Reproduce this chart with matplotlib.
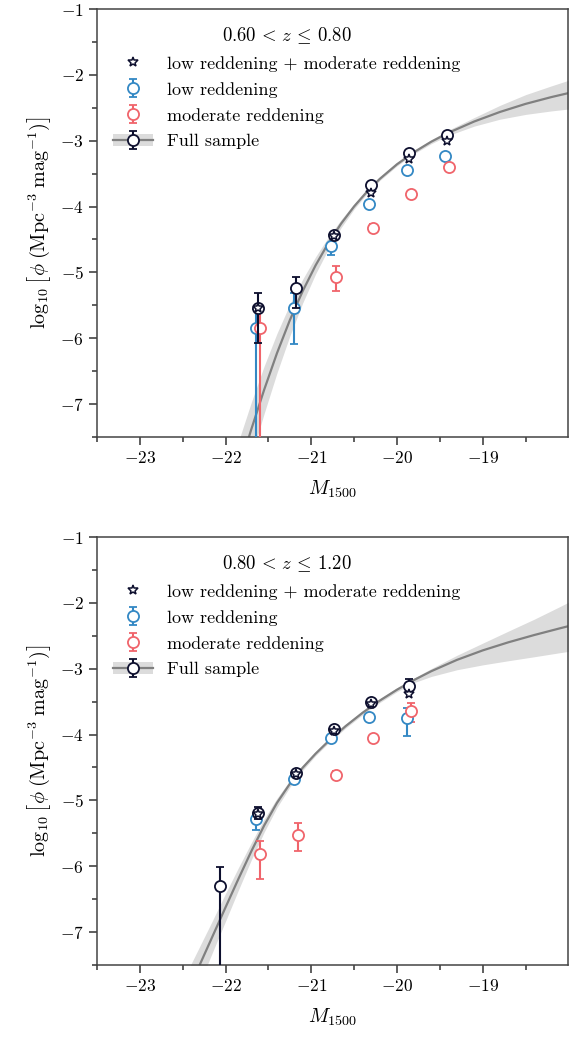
import matplotlib
matplotlib.use("Agg")
import matplotlib.pyplot as plt
import numpy as np
from matplotlib.ticker import MultipleLocator
from matplotlib.patches import Patch
from matplotlib.lines import Line2D

plt.rcParams['font.family'] = 'serif'
plt.rcParams['font.serif'] = ['cmr10']
plt.rcParams['mathtext.fontset'] = 'cm'
plt.rcParams['axes.formatter.use_mathtext'] = True
plt.rcParams['axes.unicode_minus'] = True

# colours
c_low = '#3388c4'
c_mod = '#f0646b'
c_all = '#0d0f2e'
c_fit = '#808080'
c_band = '#dcdcdc'

# ---- 0.60 < z <= 0.80 ----
m_top = [-21.62, -21.18, -20.74, -20.30, -19.86, -19.42]
all_top = [-5.545, -5.23, -4.425, -3.68, -3.19, -2.915]
all_top_lo = [0.535, 0.315, 0.04, 0.04, 0.04, 0.05]
all_top_hi = [0.235, 0.16, 0.04, 0.04, 0.04, 0.05]
comb_top = [-5.545, np.nan, -4.45, -3.80, -3.28, -3.00]
low_top = [-5.85, -5.545, -4.60, -3.96, -3.44, -3.23]
low_top_lo = [10.0, 0.545, 0.13, 0.04, 0.04, 0.04]
low_top_hi = [0.30, 0.235, 0.05, 0.04, 0.04, 0.04]
mod_top = [-5.85, np.nan, -5.07, -4.32, -3.81, -3.40]
mod_top_lo = [10.0, 0.0, 0.21, 0.05, 0.04, 0.04]
mod_top_hi = [0.30, 0.0, 0.16, 0.05, 0.04, 0.04]

fit_m_top = [-21.85, -21.70, -21.55, -21.40, -21.25, -21.10, -20.95, -20.80, -20.65, -20.50,
             -20.35, -20.20, -20.00, -19.80, -19.60, -19.40, -19.10, -18.80, -18.50, -18.20,
             -17.95]
fit_top = [-8.020, -7.384, -6.783, -6.226, -5.725, -5.283, -4.894, -4.553, -4.256, -3.998,
           -3.774, -3.579, -3.358, -3.173, -3.015, -2.880, -2.709, -2.564, -2.441, -2.338,
           -2.262]
band_top_lo = [0.45, 0.41, 0.36, 0.30, 0.24, 0.18, 0.13, 0.09, 0.06, 0.04,
               0.03, 0.025, 0.025, 0.025, 0.03, 0.04, 0.07, 0.11, 0.16, 0.21,
               0.25]
band_top_hi = [0.45, 0.41, 0.36, 0.30, 0.24, 0.18, 0.13, 0.09, 0.06, 0.04,
               0.03, 0.025, 0.025, 0.025, 0.03, 0.04, 0.06, 0.10, 0.14, 0.17,
               0.20]

# ---- 0.80 < z <= 1.20 ----
m_bot = [-22.06, -21.62, -21.18, -20.74, -20.30, -19.86]
all_bot = [-6.30, -5.195, -4.58, -3.91, -3.50, -3.26]
all_bot_lo = [10.0, 0.09, 0.04, 0.04, 0.04, 0.10]
all_bot_hi = [0.29, 0.10, 0.04, 0.04, 0.04, 0.10]
comb_bot = [np.nan, -5.20, -4.60, -3.94, -3.54, -3.39]
low_bot = [np.nan, -5.29, -4.68, -4.06, -3.73, -3.75]
low_bot_lo = [0.0, 0.16, 0.04, 0.04, 0.04, 0.27]
low_bot_hi = [0.0, 0.09, 0.04, 0.04, 0.04, 0.15]
mod_bot = [np.nan, -5.81, -5.52, -4.62, -4.05, -3.65]
mod_bot_lo = [0.0, 0.38, 0.25, 0.06, 0.04, 0.16]
mod_bot_hi = [0.0, 0.19, 0.17, 0.06, 0.04, 0.13]

fit_m_bot = [-22.45, -22.30, -22.15, -22.00, -21.85, -21.70, -21.55, -21.40, -21.25, -21.10,
             -20.95, -20.80, -20.60, -20.40, -20.20, -20.00, -19.80, -19.60, -19.30, -19.00,
             -18.70, -18.40, -18.10, -17.95]
fit_bot = [-7.928, -7.493, -7.058, -6.623, -6.192, -5.774, -5.382, -5.037, -4.748, -4.503,
           -4.291, -4.101, -3.873, -3.668, -3.484, -3.319, -3.171, -3.038, -2.866, -2.722,
           -2.599, -2.489, -2.387, -2.338]
band_bot_lo = [0.32, 0.28, 0.24, 0.21, 0.17, 0.13, 0.10, 0.07, 0.05, 0.04,
               0.03, 0.03, 0.03, 0.03, 0.03, 0.03, 0.04, 0.08, 0.15, 0.22,
               0.28, 0.33, 0.37, 0.39]
band_bot_hi = [0.32, 0.28, 0.24, 0.21, 0.17, 0.13, 0.10, 0.07, 0.05, 0.04,
               0.03, 0.03, 0.03, 0.03, 0.03, 0.03, 0.03, 0.04, 0.07, 0.11,
               0.17, 0.24, 0.33, 0.38]

dm = 0.025  # horizontal offset between the two reddening subsamples


def panel(ax, title, m, allv, all_lo, all_hi, comb, low, low_lo, low_hi, mod, mod_lo, mod_hi,
          fm, fv, blo, bhi):
    m = np.array(m)
    fm = np.array(fm)
    fv = np.array(fv)
    h_band = ax.fill_between(fm, fv - np.array(blo), fv + np.array(bhi),
                             color=c_band, lw=0, zorder=1)
    h_line, = ax.plot(fm, fv, color=c_fit, lw=1.6, zorder=2)

    kw = dict(fmt='o', ms=8, mfc='white', mew=1.3, capsize=2.6, elinewidth=1.5, capthick=1.5)
    h_low = ax.errorbar(m - dm, low, yerr=[low_lo, low_hi], color=c_low, mec=c_low,
                        zorder=3, **kw)
    h_mod = ax.errorbar(m + dm, mod, yerr=[mod_lo, mod_hi], color=c_mod, mec=c_mod,
                        zorder=3, **kw)
    h_all = ax.errorbar(m, allv, yerr=[all_lo, all_hi], color=c_all, mec=c_all,
                        zorder=4, **kw)
    h_comb, = ax.plot(m, comb, ls='none', marker='*', ms=7, mfc='white', mec=c_all,
                      mew=1.1, zorder=5)

    ax.set_xlim(-23.5, -18.005)
    ax.set_ylim(-7.5, -1)
    ax.xaxis.set_major_locator(MultipleLocator(1))
    ax.xaxis.set_minor_locator(MultipleLocator(0.5))
    ax.yaxis.set_major_locator(MultipleLocator(1))
    ax.yaxis.set_minor_locator(MultipleLocator(0.5))
    ax.tick_params(which='both', direction='out', top=False, right=False, width=1.1,
                   color='#333333', labelsize=12.5)
    ax.tick_params(which='major', length=6)
    ax.tick_params(which='minor', length=3.5)
    for s in ax.spines.values():
        s.set_color('#444444')
        s.set_linewidth(1.1)
    ax.set_xlabel(r'$M_{1500}$', fontsize=14.5, labelpad=9)
    ax.set_ylabel(r'$\log_{10}\left[\phi\;(\mathrm{Mpc}^{-3}\;\mathrm{mag}^{-1})\right]$',
                  fontsize=14.5, labelpad=5)

    ax.legend([h_comb, h_low, h_mod, (h_band, h_line, h_all)],
              ['low reddening + moderate reddening', 'low reddening',
               'moderate reddening', 'Full sample'],
              title=title, title_fontsize=13.5, fontsize=13, frameon=False,
              loc='upper left', bbox_to_anchor=(0.0, 1.0), handlelength=2.2,
              handletextpad=0.8, labelspacing=0.56)


fig = plt.figure(figsize=(5.70, 10.39), dpi=100)
ax1 = fig.add_axes([97 / 570, 1 - 437 / 1039, 471 / 570, 428 / 1039])
ax2 = fig.add_axes([97 / 570, 1 - 965 / 1039, 471 / 570, 428 / 1039])

panel(ax1, r'$0.60\,<\,z\,\leq\,0.80$', m_top, all_top, all_top_lo, all_top_hi, comb_top,
      low_top, low_top_lo, low_top_hi, mod_top, mod_top_lo, mod_top_hi,
      fit_m_top, fit_top, band_top_lo, band_top_hi)
panel(ax2, r'$0.80\,<\,z\,\leq\,1.20$', m_bot, all_bot, all_bot_lo, all_bot_hi, comb_bot,
      low_bot, low_bot_lo, low_bot_hi, mod_bot, mod_bot_lo, mod_bot_hi,
      fit_m_bot, fit_bot, band_bot_lo, band_bot_hi)

fig.savefig('out.png', dpi=100)
